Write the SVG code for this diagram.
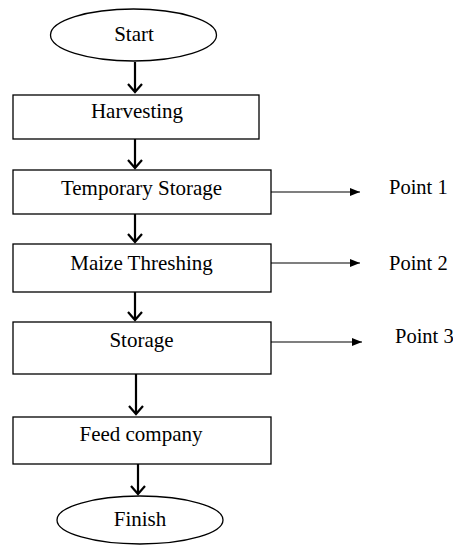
<svg xmlns="http://www.w3.org/2000/svg" width="453" height="545" viewBox="0 0 453 545">
<style>
.box{fill:#fff;stroke:#000;stroke-width:1.3}
.t{font-family:"Liberation Serif","Times New Roman",serif;font-size:21px;fill:#000;text-anchor:middle}
.p{font-family:"Liberation Serif","Times New Roman",serif;font-size:20.5px;fill:#000}
.v{stroke:#000;stroke-width:2.2;fill:none}
.h{stroke:#000;stroke-width:1.2;fill:none}
</style>
<defs>
<marker id="tri" markerUnits="userSpaceOnUse" markerWidth="10" markerHeight="8" refX="10" refY="4" viewBox="0 0 10 8" orient="auto">
<path d="M0,0 L10,4 L0,8 Z" fill="#000"/>
</marker>
</defs>
<rect width="453" height="545" fill="#fff"/>
<g id="start"><ellipse class="box" cx="133.5" cy="35" rx="83" ry="26"/><text class="t" x="134" y="41">Start</text></g>
<g id="harvesting"><rect class="box" x="13" y="95" width="246" height="44"/><text class="t" x="137" y="118">Harvesting</text></g>
<g id="temporary-storage"><rect class="box" x="13" y="170" width="258" height="44"/><text class="t" x="141.5" y="195">Temporary Storage</text></g>
<g id="maize-threshing"><rect class="box" x="13" y="244" width="258" height="48"/><text class="t" x="141.5" y="270">Maize Threshing</text></g>
<g id="storage"><rect class="box" x="13" y="322" width="258" height="52"/><text class="t" x="141.5" y="347">Storage</text></g>
<g id="feed-company"><rect class="box" x="13" y="417" width="258" height="47"/><text class="t" x="141" y="441">Feed company</text></g>
<g id="finish"><ellipse class="box" cx="140" cy="520" rx="83" ry="24"/><text class="t" x="140" y="526">Finish</text></g>
<g id="point1"><text class="p" x="389" y="194">Point 1</text></g>
<g id="point2"><text class="p" x="389" y="270">Point 2</text></g>
<g id="point3"><text class="p" x="395" y="343">Point 3</text></g>
<g id="connectors">
<path class="v" d="M135,62 V92 M128,84 L135,92 L142,84"/>
<path class="v" d="M135,139 V168 M128,160 L135,168 L142,160"/>
<path class="v" d="M135,214 V242 M128,234 L135,242 L142,234"/>
<path class="v" d="M135,292 V320 M128,312 L135,320 L142,312"/>
<path class="v" d="M136,374 V414 M129,406 L136,414 L143,406"/>
<path class="v" d="M138,464 V494 M131,486 L138,494 L145,486"/>
<line class="h" x1="271" y1="192" x2="360" y2="192" marker-end="url(#tri)"/>
<line class="h" x1="271" y1="263" x2="360" y2="263" marker-end="url(#tri)"/>
<line class="h" x1="271" y1="342" x2="362" y2="342" marker-end="url(#tri)"/>
</g>
</svg>
